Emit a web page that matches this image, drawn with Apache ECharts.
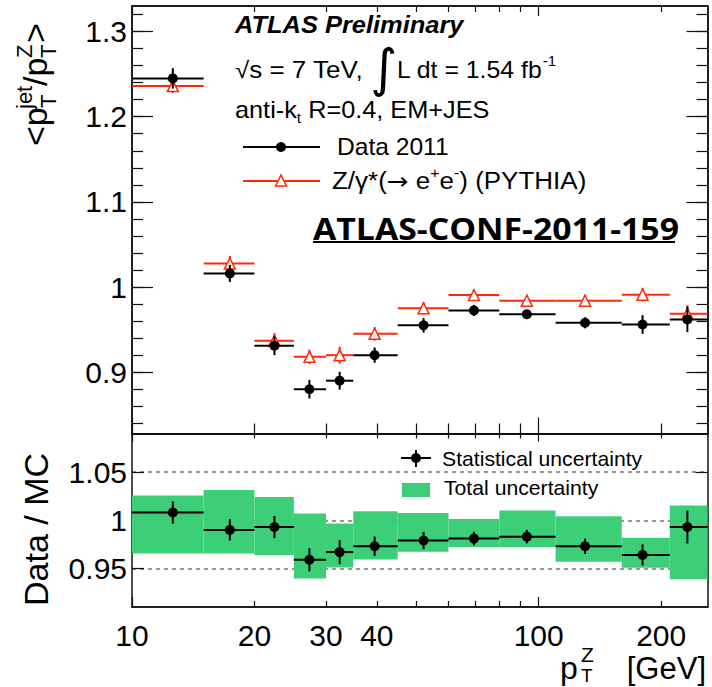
<!DOCTYPE html>
<html>
<head>
<meta charset="utf-8">
<script src="https://cdn.jsdelivr.net/npm/echarts@6.0.0/dist/echarts.min.js"></script>
<style>
  html, body { margin: 0; padding: 0; background: #fff; }
  #chart { width: 712px; height: 687px; }
</style>
</head>
<body>
<div id="chart"></div>
<script>
// pT^Z bins [GeV] and mean pT^Z inside each bin
const binLow  = [10, 15, 20, 25, 30, 35, 45, 60, 80, 110, 160, 210];
const binHigh = [15, 20, 25, 30, 35, 45, 60, 80, 110, 160, 210, 260];
const binMean = [12.6, 17.4, 22.4, 27.3, 32.4, 39.5, 52.1, 69.3, 93.5, 130, 180, 232];

// <pT^jet / pT^Z> in data 2011
const dataResponse = [1.245, 1.016, 0.931, 0.880, 0.890, 0.920, 0.955, 0.9725, 0.968, 0.958, 0.956, 0.962];
const dataError    = [0.012, 0.010, 0.011, 0.011, 0.0105, 0.009, 0.0085, 0.0065, 0.004, 0.0065, 0.011, 0.015];

// <pT^jet / pT^Z> in Z/gamma* -> ee PYTHIA simulation
const mcResponse = [1.236, 1.0275, 0.937, 0.918, 0.920, 0.945, 0.975, 0.9905, 0.984, 0.984, 0.991, 0.9685];
const mcError    = [0.008, 0.009, 0.009, 0.0085, 0.010, 0.008, 0.007, 0.0065, 0.005, 0.005, 0.008, 0.010];

// Data / MC ratio with statistical and total uncertainty
const ratio          = [1.008, 0.990, 0.993, 0.959, 0.967, 0.973, 0.979, 0.981, 0.983, 0.973, 0.964, 0.993];
const ratioStatError = [0.0115, 0.011, 0.0115, 0.012, 0.0125, 0.010, 0.009, 0.007, 0.007, 0.008, 0.011, 0.017];
const totalLow  = [0.9656, 0.9656, 0.9639, 0.9396, 0.951, 0.9594, 0.9674, 0.9722, 0.9722, 0.9569, 0.9507, 0.9389];
const totalHigh = [1.0257, 1.0313, 1.024, 1.0069, 0.9965, 1.0094, 1.0076, 1.0014, 1.0101, 1.0042, 0.9819, 1.0153];

// Axis ticks and labels
const xRange = [10, 260];
const xTickLabels = [10, 20, 30, 40, 100, 200];
const xMajorTicks = [10, 100];
const xMinorTicks = [20, 30, 40, 50, 60, 70, 80, 90, 200];
const upperRange = [0.828, 1.33];
const upperTickLabels = [0.9, 1.0, 1.1, 1.2, 1.3];
const upperMinorTicks = [0.84, 0.86, 0.88, 0.90, 0.92, 0.94, 0.96, 0.98, 1.00, 1.02, 1.04, 1.06, 1.08,
                         1.10, 1.12, 1.14, 1.16, 1.18, 1.20, 1.22, 1.24, 1.26, 1.28, 1.30, 1.32];
const lowerRange = [0.91, 1.09];
const lowerTickLabels = [0.95, 1.0, 1.05];

const RED = '#ff2a0a';
const GREEN = '#3dce78';
const FONT = '"Liberation Sans", Arial, Helvetica, sans-serif';
const lg = Math.log10;

const chart = echarts.init(document.getElementById('chart'), null, { renderer: 'svg' });

// ---- axes (ROOT-style frame: ticks inside, mirrored on all four sides) ----
const frameLine = { show: true, onZero: false, lineStyle: { color: '#111', width: 1.5 } };

function xAxisDef(gridIndex, position, ticks, length, labels) {
  return {
    type: 'value', gridIndex, position,
    min: lg(xRange[0]), max: lg(xRange[1]),
    axisLine: frameLine,
    axisTick: { show: true, inside: true, length, customValues: ticks.map(lg),
                lineStyle: { color: '#111', width: 1.2 } },
    axisLabel: labels ? {
      show: true, customValues: labels.map(lg), margin: 13,
      formatter: v => String(Math.round(Math.pow(10, v))),
      fontFamily: FONT, fontSize: 30, color: '#000'
    } : { show: false },
    splitLine: { show: false }
  };
}

function yAxisDef(gridIndex, position, range, ticks, length, labels, split) {
  return {
    type: 'value', gridIndex, position,
    min: range[0], max: range[1],
    axisLine: frameLine,
    axisTick: { show: true, inside: true, length, customValues: ticks,
                lineStyle: { color: '#111', width: 1.2 } },
    axisLabel: labels ? {
      show: true, customValues: labels, margin: 5,
      fontFamily: FONT, fontSize: 30, color: '#000'
    } : { show: false },
    splitLine: split ? { show: true, lineStyle: { color: '#777', width: 1.5, type: [4, 4] } } : { show: false }
  };
}

const xAxes = [
  xAxisDef(0, 'bottom', xMajorTicks, 16, null),
  xAxisDef(0, 'bottom', xMinorTicks, 10, null),
  xAxisDef(0, 'top', xMajorTicks, 10, null),
  xAxisDef(0, 'top', xMinorTicks, 6, null),
  xAxisDef(1, 'bottom', xMajorTicks, 10, xTickLabels),
  xAxisDef(1, 'bottom', xMinorTicks, 6, null),
  xAxisDef(1, 'top', xMajorTicks, 8, null),
  xAxisDef(1, 'top', xMinorTicks, 5, null)
];
const yAxes = [
  yAxisDef(0, 'left', upperRange, upperTickLabels, 21, upperTickLabels, false),
  yAxisDef(0, 'left', upperRange, upperMinorTicks, 11, null, false),
  yAxisDef(0, 'right', upperRange, upperTickLabels, 21, null, false),
  yAxisDef(0, 'right', upperRange, upperMinorTicks, 11, null, false),
  yAxisDef(1, 'left', lowerRange, lowerTickLabels, 12, lowerTickLabels, true),
  yAxisDef(1, 'right', lowerRange, lowerTickLabels, 12, null, false)
];

// ---- series renderers ----
function errorBarRenderer(color) {
  return function (params, api) {
    const y = api.value(3);
    const a = api.coord([api.value(0), y]);
    const b = api.coord([api.value(1), y]);
    const c = api.coord([api.value(2), api.value(4)]);
    const d = api.coord([api.value(2), api.value(5)]);
    const style = { stroke: color, lineWidth: 2 };
    return {
      type: 'group',
      children: [
        { type: 'line', shape: { x1: a[0], y1: a[1], x2: b[0], y2: b[1] }, style },
        { type: 'line', shape: { x1: c[0], y1: c[1], x2: d[0], y2: d[1] }, style }
      ]
    };
  };
}

function bandRenderer(params, api) {
  const p0 = api.coord([api.value(0), api.value(3)]);
  const p1 = api.coord([api.value(1), api.value(2)]);
  return {
    type: 'rect',
    shape: { x: p0[0], y: p0[1], width: p1[0] - p0[0], height: p1[1] - p0[1] },
    style: { fill: GREEN }
  };
}

function errorRows(values, errors) {
  return values.map((v, i) => [lg(binLow[i]), lg(binHigh[i]), lg(binMean[i]), v, v - errors[i], v + errors[i]]);
}
function pointRows(values) {
  return values.map((v, i) => [lg(binMean[i]), v]);
}

// ---- free text helpers ----
// plain text, placed by its baseline
function txt(x, baseline, text, size, extra) {
  return {
    type: 'text', x, y: baseline - 0.35 * size, z: 20,
    style: Object.assign({ text, font: size + 'px ' + FONT, fill: '#000',
                           textAlign: 'left', textVerticalAlign: 'middle' }, (extra || {}))
  };
}
// rich text line with super/subscripts, stretched horizontally by sx
function rich(x, baseline, text, size, sx, weight, style) {
  const lh = size + 8;
  return {
    type: 'text', x, y: baseline - 0.35 * size, z: 20, scaleX: sx,
    style: {
      text, textAlign: 'left', textVerticalAlign: 'middle', fill: '#000',
      font: (style || '') + ' ' + (weight || '') + ' ' + size + 'px ' + FONT,
      rich: {
        m:   { fontSize: size, fontFamily: FONT, fontWeight: weight || 'normal', fontStyle: style || 'normal', lineHeight: lh },
        c:   { fontSize: size, fontFamily: '"Open Sans", sans-serif', fontWeight: 'bold', lineHeight: lh },
        arr: { fontSize: size, fontFamily: '"DejaVu Sans", sans-serif', lineHeight: lh },
        sup: { fontSize: 14, fontFamily: FONT, lineHeight: 14, verticalAlign: 'top' },
        sub: { fontSize: 14, fontFamily: FONT, lineHeight: 14, verticalAlign: 'bottom' }
      }
    }
  };
}

const graphics = [
  // header
  rich(235, 33, '{m|ATLAS Preliminary}', 24, 1.06, 'bold', 'italic'),
  rich(235, 78, '{m|\u221As = 7 TeV,}', 23, 1.13),
  txt(370, 86, '\u222B', 52, { font: '52px "DejaVu Sans", sans-serif' }),
  rich(397, 78, '{m|L dt = 1.54 fb}{sup|-1}', 23, 1.08),
  rich(235, 118, '{m|anti-k}{sub|t}{m| R=0.4, EM+JES}', 23, 1.1),
  // legend of the upper panel
  { type: 'line', z: 20, shape: { x1: 243, y1: 147, x2: 320, y2: 147 }, style: { stroke: '#000', lineWidth: 2 } },
  { type: 'circle', z: 21, shape: { cx: 281, cy: 147, r: 5 }, style: { fill: '#000' } },
  rich(337, 155, '{m|Data 2011}', 23, 1.07),
  { type: 'line', z: 20, shape: { x1: 243, y1: 181, x2: 320, y2: 181 }, style: { stroke: RED, lineWidth: 2 } },
  { type: 'polygon', z: 21, shape: { points: [[281, 175], [275.5, 186], [286.5, 186]] },
    style: { fill: '#fff', stroke: RED, lineWidth: 1.5 } },
  rich(332, 189, '{m|Z/\u03B3*(}{arr|\u2192}{m| e}{sup|+}{m|e}{sup|-}{m|) (PYTHIA)}', 23, 1.13),
  // conference note reference
  rich(313, 238, '{c|ATLAS-CONF-2011-159}', 31, 1.09),
  { type: 'line', z: 20, shape: { x1: 313, y1: 242, x2: 675, y2: 242 }, style: { stroke: '#000', lineWidth: 2 } },
  // legend of the ratio panel
  { type: 'line', z: 20, shape: { x1: 401, y1: 458, x2: 431, y2: 458 }, style: { stroke: '#000', lineWidth: 2 } },
  { type: 'line', z: 20, shape: { x1: 416, y1: 450, x2: 416, y2: 467 }, style: { stroke: '#000', lineWidth: 2 } },
  { type: 'circle', z: 21, shape: { cx: 416, cy: 458, r: 5 }, style: { fill: '#000' } },
  rich(442, 466, '{m|Statistical uncertainty}', 20, 1.06),
  { type: 'rect', z: 20, shape: { x: 402, y: 483, width: 28, height: 14 }, style: { fill: GREEN } },
  rich(444, 495, '{m|Total uncertainty}', 20, 1.06),
  // y-axis title of the upper panel, reading bottom to top
  {
    type: 'group', x: 47, y: 146, rotation: Math.PI / 2, z: 20,
    children: [
      txt(0, 0, '<p', 34),
      txt(38, 9, 'T', 22),
      txt(37, -15, 'jet', 22),
      txt(60, 0, '/p', 34),
      txt(88, 9, 'T', 22),
      txt(88, -15, 'Z', 22),
      txt(103, 0, '>', 34)
    ]
  },
  // y-axis title of the ratio panel
  {
    type: 'group', x: 48, y: 606, rotation: Math.PI / 2, z: 20,
    children: [txt(0, 0, 'Data / MC', 34)]
  },
  // x-axis title
  txt(560, 679, 'p', 32),
  txt(581, 662, 'Z', 21),
  txt(581, 682, 'T', 19),
  txt(706, 679, '[GeV]', 31, { textAlign: 'right' })
];

const option = {
  animation: false,
  backgroundColor: '#fff',
  grid: [
    { left: 132, right: 4.5, top: 6, height: 427.5 },
    { left: 132, right: 4.5, top: 433.5, height: 173.5 }
  ],
  xAxis: xAxes,
  yAxis: yAxes,
  series: [
    {
      name: 'MC bins', type: 'custom', xAxisIndex: 0, yAxisIndex: 0, z: 2,
      renderItem: errorBarRenderer(RED), data: errorRows(mcResponse, mcError)
    },
    {
      name: 'MC', type: 'scatter', xAxisIndex: 0, yAxisIndex: 0, z: 3,
      symbol: 'triangle', symbolSize: 11,
      itemStyle: { color: '#fff', borderColor: RED, borderWidth: 1.5, opacity: 1 },
      data: pointRows(mcResponse)
    },
    {
      name: 'Data bins', type: 'custom', xAxisIndex: 0, yAxisIndex: 0, z: 4,
      renderItem: errorBarRenderer('#000'), data: errorRows(dataResponse, dataError)
    },
    {
      name: 'Data', type: 'scatter', xAxisIndex: 0, yAxisIndex: 0, z: 5,
      symbol: 'circle', symbolSize: 10, itemStyle: { color: '#000', opacity: 1 },
      data: pointRows(dataResponse)
    },
    {
      name: 'Total uncertainty', type: 'custom', xAxisIndex: 4, yAxisIndex: 4, z: 1,
      renderItem: bandRenderer,
      data: totalLow.map((v, i) => [lg(binLow[i]), lg(binHigh[i]), v, totalHigh[i]])
    },
    {
      name: 'Ratio bins', type: 'custom', xAxisIndex: 4, yAxisIndex: 4, z: 4,
      renderItem: errorBarRenderer('#000'), data: errorRows(ratio, ratioStatError)
    },
    {
      name: 'Statistical uncertainty', type: 'scatter', xAxisIndex: 4, yAxisIndex: 4, z: 5,
      symbol: 'circle', symbolSize: 10, itemStyle: { color: '#000', opacity: 1 },
      data: pointRows(ratio)
    }
  ],
  graphic: graphics
};

chart.setOption(option);
</script>
</body>
</html>
